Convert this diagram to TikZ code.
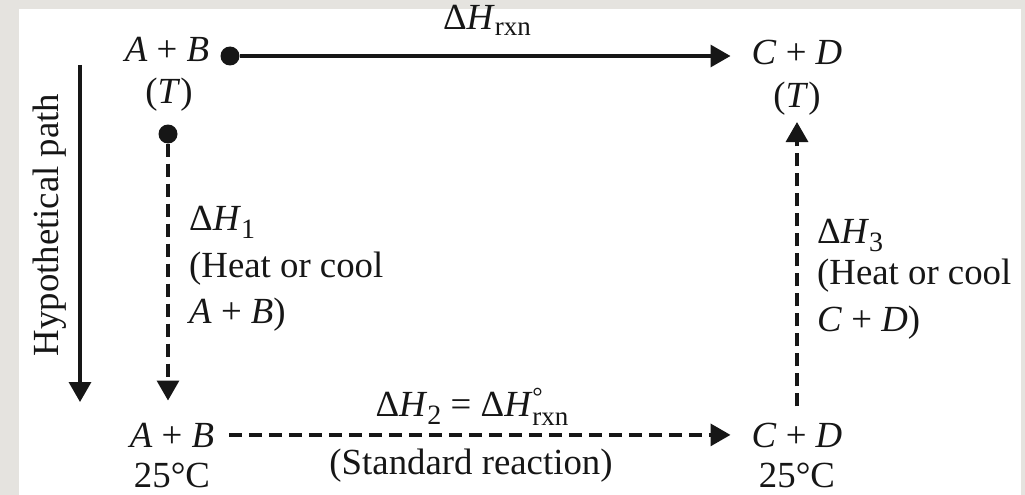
\documentclass[tikz,border=0pt]{standalone}
\usepackage{fontspec}
\setmainfont{Liberation Serif}
\usetikzlibrary{arrows.meta}
\definecolor{bg}{RGB}{229,227,223}
\definecolor{ink}{RGB}{22,22,22}
\newcommand{\lowsub}[3]{\raisebox{-#2pt}{\fontsize{#1}{#1}\selectfont #3}}
\newcommand{\degsup}{\rlap{\raisebox{11pt}{\fontsize{26}{26}\selectfont °}}}
\begin{document}
\begin{tikzpicture}[x=1pt,y=-1pt,
  every node/.style={inner sep=0pt, text=ink, font=\fontsize{36.8}{40}\selectfont},
  lbl/.style={anchor=base},
  lblw/.style={anchor=base west},
  blackdot/.style={circle, fill=ink, minimum size=19pt, inner sep=0pt},
  solidarrow/.style={draw=ink, line width=3.3pt, -{Triangle[length=20pt,width=22pt]}},
  dasharrow/.style={solidarrow, dash pattern=on 13pt off 7pt}]
\fill[bg] (0,0) rectangle (1025,495);
\fill[white] (19,9) rectangle (1021,495);
\useasboundingbox (0,0) rectangle (1025,495);
% state labels
\node[lbl] (ab1) at (167,62) {\textit{A} + \textit{B}};
\node[lbl] (abT) at (169,103) {(\textit{T})};
\node[lbl] (cd1) at (797,64) {\textit{C} + \textit{D}};
\node[lbl] (cdT) at (797,107) {(\textit{T})};
\node[blackdot] (d1) at (230,56) {};
\node[blackdot] (d2) at (168,134) {};
\node[lbl] (ab2) at (172,447) {\textit{A} + \textit{B}};
\node[lbl] (ta) at (172,487) {25°C};
\node[lbl] (cd2) at (797,447) {\textit{C} + \textit{D}};
\node[lbl] (tc) at (797,487) {25°C};
% enthalpy labels
\node[lbl] (hrxn) at (487,30) {Δ\textit{H}\lowsub{27}{6}{rxn}};
\node[lbl] (h2) at (472,416) {Δ\textit{H}\lowsub{28}{8}{2} = Δ\textit{H}\degsup\lowsub{27}{9}{rxn}};
\node[lbl] (std) at (471,474) {(Standard reaction)};
\node[lblw] (h1) at (189,230) {Δ\textit{H}\lowsub{28}{8}{1}};
\node[lblw] (h1b) at (189,277) {(Heat or cool};
\node[lblw] (h1c) at (189,323) {\textit{A} + \textit{B})};
\node[lblw] (h3) at (817,243) {Δ\textit{H}\lowsub{28}{8}{3}};
\node[lblw] (h3b) at (817,284) {(Heat or cool};
\node[lblw] (h3c) at (817,331) {\textit{C} + \textit{D})};
\node[rotate=90] (hyp) at (50,225) {Hypothetical path};
\coordinate (hp1) at (80,65);
\coordinate (hp2) at (80,402);
% connectors
\draw[solidarrow, shorten >=21pt] (d1) -- (d1 -| cd1.west);
\draw[dasharrow, shorten >=22pt] (d2) -- (d2 |- ab2.north);
\draw[dasharrow, shorten <=15pt, shorten >=21pt] (ab2.east) -- (ab2.east -| cd2.west);
\draw[dasharrow, shorten <=16pt, shorten >=7pt] (cd2.north) -- (cd2.north |- cdT.south);
\draw[solidarrow] (hp1) -- (hp2);
\end{tikzpicture}
\end{document}
